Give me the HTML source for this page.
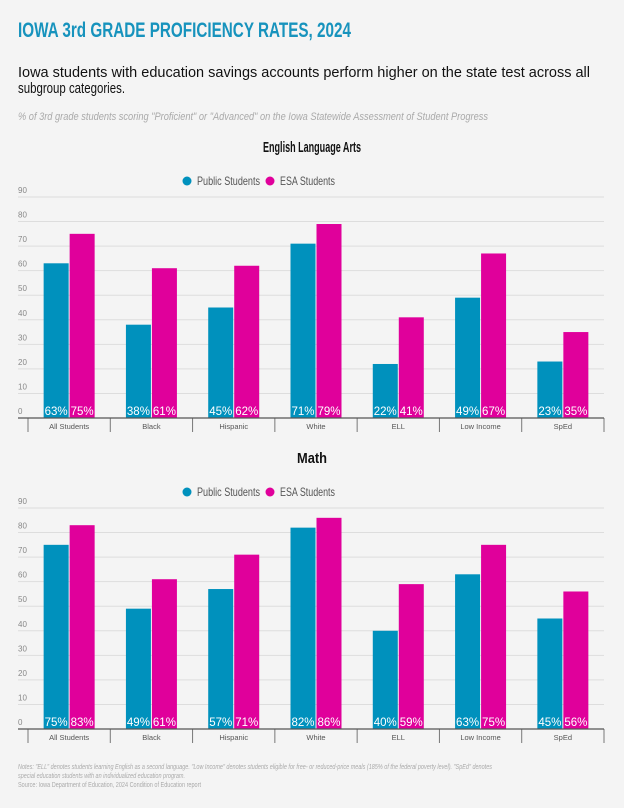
<!DOCTYPE html>
<html><head><meta charset="utf-8"><style>
html,body{margin:0;padding:0;background:#f4f4f4;}
svg{display:block;font-family:"Liberation Sans",sans-serif;}
</style></head><body>
<svg id="root" width="624" height="808" viewBox="0 0 624 808" xmlns="http://www.w3.org/2000/svg">
<rect width="624" height="808" fill="#f4f4f4"/>
<text x="18" y="37" font-size="21" font-weight="bold" fill="#1793bd" textLength="333" lengthAdjust="spacingAndGlyphs">IOWA 3rd GRADE PROFICIENCY RATES, 2024</text>
<text x="18" y="77" font-size="15" fill="#111" textLength="572" lengthAdjust="spacingAndGlyphs">Iowa students with education savings accounts perform higher on the state test across all</text>
<text x="18" y="93" font-size="15" fill="#111" textLength="107" lengthAdjust="spacingAndGlyphs">subgroup categories.</text>
<text x="18" y="120" font-size="11" font-style="italic" fill="#aaa" textLength="470" lengthAdjust="spacingAndGlyphs">% of 3rd grade students scoring "Proficient" or "Advanced" on the Iowa Statewide Assessment of Student Progress</text>
<g id="ela"></g>
<g id="math"></g>
<text x="18" y="769" font-size="7" font-style="italic" fill="#aaa" textLength="474" lengthAdjust="spacingAndGlyphs">Notes: "ELL" denotes students learning English as a second language. "Low Income" denotes students eligible for free- or reduced-price meals (185% of the federal poverty level). "SpEd" denotes</text>
<text x="18" y="778" font-size="7" font-style="italic" fill="#aaa" textLength="167" lengthAdjust="spacingAndGlyphs">special education students with an individualized education program.</text>
<text x="18" y="787" font-size="7" fill="#aaa" textLength="183" lengthAdjust="spacingAndGlyphs">Source: Iowa Department of Education, 2024 Condition of Education report</text>
</svg>
<script>
const categories = ["All Students","Black","Hispanic","White","ELL","Low Income","SpEd"];
const elaPublic = [63,38,45,71,22,49,23];
const elaESA = [75,61,62,79,41,67,35];
const mathPublic = [75,49,57,82,40,63,45];
const mathESA = [83,61,71,86,59,75,56];
const yTicks = [0,10,20,30,40,50,60,70,80,90];
const seriesNames = ["Public Students","ESA Students"];

const NS="http://www.w3.org/2000/svg";
const BLUE="#0091bd", PINK="#e0009b";
function mk(parent,tag,attrs,text){
  const e=document.createElementNS(NS,tag);
  for(const k in attrs) e.setAttribute(k,attrs[k]);
  if(text!==undefined) e.textContent=text;
  parent.appendChild(e); return e;
}
function drawChart(gid,title,titleW,titleY,legendY,top,base,pub,esa){
  const g=document.getElementById(gid);
  const left=18,right=604,x0=28,x1=604;
  const y=v=>base-(v/90)*(base-top);
  const band=(x1-x0)/categories.length;
  const t=mk(g,'text',{x:312-titleW/2,y:titleY,'font-size':15,'font-weight':'bold',fill:'#111',textLength:titleW,lengthAdjust:'spacingAndGlyphs'},title);
  
  
  const lg=mk(g,'g',{});
  
  
  const items=[[187,BLUE,seriesNames[0],63],[270,PINK,seriesNames[1],55]];
  items.forEach(([lx,c,n,w],i)=>{
    const it=mk(lg,'g',{});
    
    
    mk(it,'circle',{cx:lx,cy:legendY-4,r:4.5,fill:c});
    mk(it,'text',{x:lx+10,y:legendY,'font-size':12,fill:'#555',textLength:w,lengthAdjust:'spacingAndGlyphs'},n);
  });
  yTicks.forEach(v=>{
    if(v>0){
      const l=mk(g,'line',{x1:left,x2:right,y1:y(v),y2:y(v),stroke:'#ddd','stroke-width':1});
      
      
    }
    const tl=mk(g,'text',{x:left,y:y(v)-4,'font-size':8,fill:'#888'},String(v));
    
    
  });
  categories.forEach((c,i)=>{
    const cx=x0+band*i+band/2;
    [[pub[i],BLUE,cx-25.5,'public'],[esa[i],PINK,cx+0.5,'esa']].forEach(([v,col,bx,s])=>{
      const r=mk(g,'rect',{x:bx,y:y(v),width:25,height:base-y(v),fill:col});
      
      
      const lb=mk(g,'text',{x:bx+12.5,y:base-3,'font-size':11.5,fill:'#fff','text-anchor':'middle'},v+'%');
      
      
    });
    const cl=mk(g,'text',{x:cx,y:base+11,'font-size':7.5,fill:'#555','text-anchor':'middle'},c);
    
    
  });
  for(let i=0;i<=categories.length;i++){
    const tx=x0+band*i;
    const tk=mk(g,'line',{x1:tx,x2:tx,y1:base,y2:base+14,stroke:'#777','stroke-width':1});
    
    
  }
  const ax=mk(g,'line',{x1:left,x2:right,y1:base,y2:base,stroke:'#555','stroke-width':1.3});
  
  
}
drawChart('ela','English Language Arts',98,152,185,197,418,elaPublic,elaESA);
drawChart('math','Math',30,463,496,508,729,mathPublic,mathESA);
</script>
</body></html>
